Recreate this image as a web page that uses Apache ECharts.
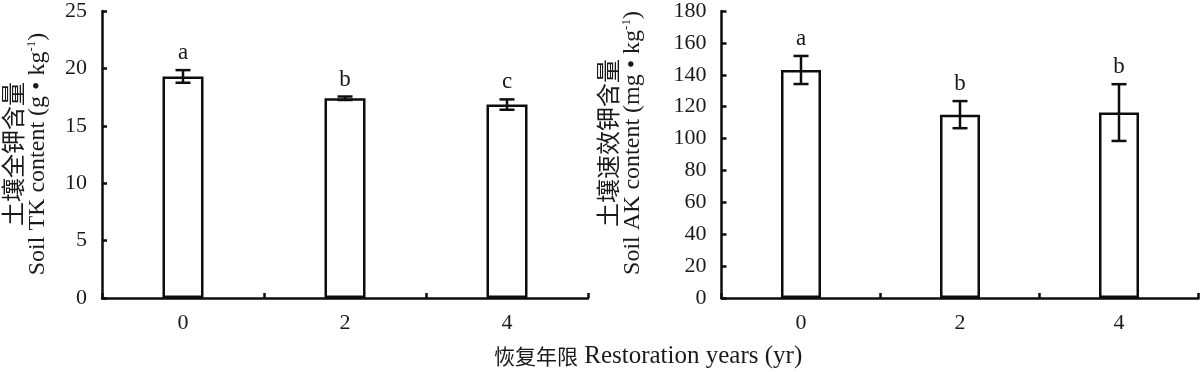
<!DOCTYPE html>
<html>
<head>
<meta charset="utf-8">
<script src="https://cdn.jsdelivr.net/npm/echarts@6/dist/echarts.min.js"></script>
<style>
html,body{margin:0;padding:0;background:#fff;}
#chart{width:1200px;height:372px;}
</style>
</head>
<body>
<div id="chart"></div>
<script>
// ---- data ----
const categories = ['0', '2', '4'];
const tkMean = [19.3, 17.4, 16.85];
const tkErr = [0.55, 0.15, 0.45];
const tkLetters = ['a', 'b', 'c'];
const akMean = [143, 115, 116.3];
const akErr = [8.8, 8.5, 17.8];
const akLetters = ['a', 'b', 'b'];
const tkAxis = { min: 0, max: 25, interval: 5 };
const akAxis = { min: 0, max: 180, interval: 20 };
const tkTitleCn = '土壤全钾含量';
const tkTitleEn = 'Soil TK content (g • kg';
const akTitleCn = '土壤速效钾含量';
const akTitleEn = 'Soil AK content (mg • kg';
const supText = '-1';
const xTitleCn = '恢复年限';
const xTitleEn = ' Restoration years (yr)';

// ---- style ----
const INK = '#0d0d0d';
const TXT = '#1a1a1a';
const SERIF = '"Liberation Serif", "Times New Roman", serif';
const CJK = '"Noto Sans CJK SC", sans-serif';

const chart = echarts.init(document.getElementById('chart'), null, { renderer: 'canvas' });

function errRender(means, errs, letters) {
  return function (params, api) {
    const i = params.dataIndex;
    const x = api.value(0);
    const m = api.value(1);
    const e = api.value(2);
    const top = api.coord([x, m + e]);
    const bot = api.coord([x, m - e]);
    const half = 7.5;
    const ls = { stroke: INK, lineWidth: 2.5 };
    return {
      type: 'group',
      children: [
        { type: 'line', shape: { x1: top[0], y1: top[1], x2: bot[0], y2: bot[1] }, style: ls },
        { type: 'line', shape: { x1: top[0] - half, y1: top[1], x2: top[0] + half, y2: top[1] }, style: ls },
        { type: 'line', shape: { x1: bot[0] - half, y1: bot[1], x2: bot[0] + half, y2: bot[1] }, style: ls },
        { type: 'text', x: top[0], y: top[1] - 17,
          style: { text: letters[i], fill: TXT, font: '23px ' + SERIF, align: 'center', verticalAlign: 'middle' } }
      ]
    };
  };
}

function yAxisCfg(gridIndex, ax) {
  return {
    type: 'value', gridIndex: gridIndex, min: ax.min, max: ax.max, interval: ax.interval,
    axisLine: { show: true, lineStyle: { color: INK, width: 2.5 } },
    axisTick: { show: true, inside: true, length: 5, lineStyle: { color: INK, width: 2.5 } },
    axisLabel: { color: TXT, fontSize: 22, fontFamily: SERIF, margin: 15 },
    splitLine: { show: false }
  };
}
function xAxisCfg(gridIndex) {
  return {
    type: 'category', gridIndex: gridIndex, data: categories, boundaryGap: true,
    axisLine: { show: true, lineStyle: { color: INK, width: 2.5 } },
    axisTick: { show: true, inside: true, length: 5, alignWithLabel: false, lineStyle: { color: INK, width: 2.5 } },
    axisLabel: { color: TXT, fontSize: 22, fontFamily: SERIF, margin: 14 },
    splitLine: { show: false }
  };
}

const richTitle = {
  cjk: { fontFamily: CJK, fontSize: 24, lineHeight: 25, fill: TXT },
  en: { fontFamily: SERIF, fontSize: 24, lineHeight: 25, fill: TXT },
  sup: { fontFamily: SERIF, fontSize: 13, lineHeight: 25, verticalAlign: 'top', fill: TXT }
};

function yTitle(x, y, cn, en) {
  return {
    type: 'text', x: x, y: y, rotation: Math.PI / 2,
    style: {
      text: '{cjk|' + cn + '}\n{en|' + en + '}{sup|' + supText + '}{en|)}',
      rich: richTitle, align: 'center', verticalAlign: 'middle'
    }
  };
}

const option = {
  animation: false,
  backgroundColor: '#fff',
  grid: [
    { left: 102, right: 612, top: 10, bottom: 74 },
    { left: 721.5, right: 1.5, top: 7, bottom: 74 }
  ],
  xAxis: [xAxisCfg(0), xAxisCfg(1)],
  yAxis: [yAxisCfg(0, tkAxis), yAxisCfg(1, akAxis)],
  series: [
    { type: 'bar', xAxisIndex: 0, yAxisIndex: 0, data: tkMean, barWidth: 41,
      itemStyle: { color: '#fff', borderColor: INK, borderWidth: 2.5 } },
    { type: 'bar', xAxisIndex: 1, yAxisIndex: 1, data: akMean, barWidth: 40,
      itemStyle: { color: '#fff', borderColor: INK, borderWidth: 2.5 } },
    { type: 'custom', xAxisIndex: 0, yAxisIndex: 0, clip: false, z: 5,
      data: tkMean.map((v, i) => [i, v, tkErr[i]]),
      renderItem: errRender(tkMean, tkErr, tkLetters) },
    { type: 'custom', xAxisIndex: 1, yAxisIndex: 1, clip: false, z: 5,
      data: akMean.map((v, i) => [i, v, akErr[i]]),
      renderItem: errRender(akMean, akErr, akLetters) }
  ],
  graphic: [
    yTitle(25, 154, tkTitleCn, tkTitleEn),
    yTitle(620, 143, akTitleCn, akTitleEn),
    { type: 'text', x: 494, y: 356,
      style: { text: '{cjk|' + xTitleCn + '}{en|' + xTitleEn + '}',
        rich: { cjk: { fontFamily: CJK, fontSize: 21, fill: TXT }, en: { fontFamily: SERIF, fontSize: 25, fill: TXT } },
        align: 'left', verticalAlign: 'middle' } }
  ]
};
chart.setOption(option);
</script>
</body>
</html>
